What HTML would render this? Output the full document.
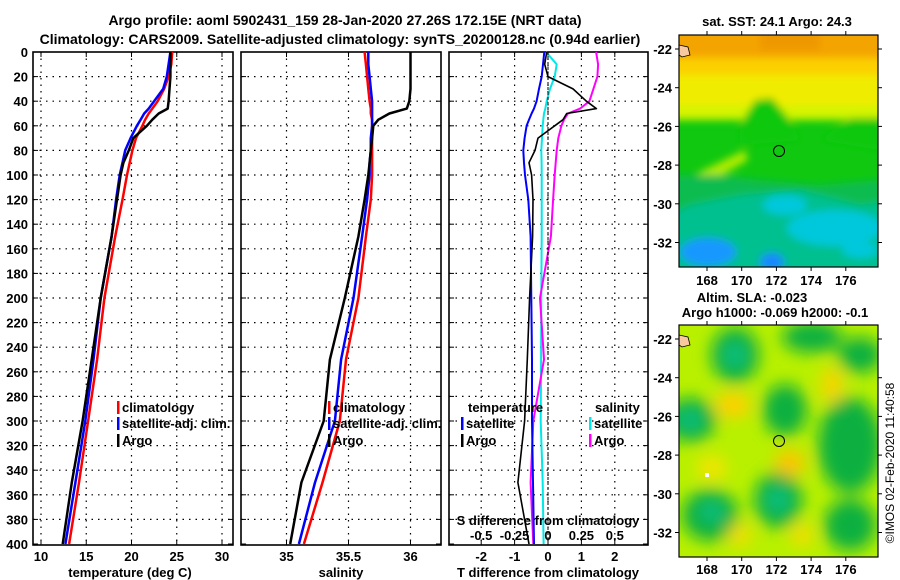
<!DOCTYPE html>
<html><head><meta charset="utf-8">
<style>
html,body{margin:0;padding:0;background:#fff;}
svg{display:block;font-family:"Liberation Sans",Arial,sans-serif;font-weight:bold;}
</style></head>
<body>
<svg id="chart" width="900" height="580" viewBox="0 0 900 580" xmlns="http://www.w3.org/2000/svg">
<defs>
<filter id="blur1" x="-20%" y="-20%" width="140%" height="140%"><feGaussianBlur stdDeviation="4"/></filter>
<filter id="blur2" x="-20%" y="-20%" width="140%" height="140%"><feGaussianBlur stdDeviation="8"/></filter>
<clipPath id="clipTop"><rect x="679" y="35" width="199" height="232"/></clipPath>
<clipPath id="clipBot"><rect x="679" y="325" width="199" height="232"/></clipPath>
</defs>
<text x="345" y="25" text-anchor="middle" font-size="14">Argo profile: aoml 5902431_159 28-Jan-2020 27.26S 172.15E (NRT data)</text>
<text x="340" y="44" text-anchor="middle" font-size="14">Climatology: CARS2009. Satellite-adjusted climatology: synTS_20200128.nc (0.94d earlier)</text>
<g id="panels"></g>

<!-- SST map -->
<g>
<text x="777" y="26" text-anchor="middle" font-size="13">sat. SST: 24.1 Argo: 24.3</text>
<g clip-path="url(#clipTop)">
<rect x="679" y="35" width="199" height="232" fill="#10c810"/>
<g filter="url(#blur1)">
<rect x="660" y="20" width="240" height="100" fill="#d4f400"/>
<rect x="660" y="20" width="240" height="85" fill="#f0ec00"/>
<rect x="660" y="20" width="240" height="55" fill="#fcd000"/>
<rect x="660" y="20" width="240" height="38" fill="#f4a400"/>
<rect x="760" y="20" width="60" height="30" fill="#ee9800"/>
<polygon points="740,125 755,100 772,98 790,120 800,140 740,145" fill="#10c810"/>
<polygon points="820,140 850,118 880,118 880,150" fill="#10c810"/>
<polygon points="690,182 700,172 745,150 748,160 705,185" fill="#b0ec00"/>
<polygon points="660,175 720,175 760,180 820,185 900,178 900,290 660,290" fill="#08bc50"/>
<polygon points="690,205 740,195 800,190 860,205 900,200 900,290 660,290 660,220" fill="#00c090"/>
<ellipse cx="835" cy="228" rx="48" ry="18" fill="#00c8dc"/>
<ellipse cx="785" cy="205" rx="22" ry="10" fill="#00c8dc"/>
<ellipse cx="708" cy="252" rx="28" ry="14" fill="#1898ff"/>
<ellipse cx="772" cy="262" rx="12" ry="9" fill="#1888ff"/>
<ellipse cx="860" cy="250" rx="18" ry="8" fill="#00c8dc"/>
</g>
<path d="M679,45 L688,47 L690,55 L682,57 L679,55 Z" fill="#f8c8a0" stroke="#000" stroke-width="0.8"/>
</g>
<rect x="679" y="35" width="199" height="232" fill="none" stroke="#000" stroke-width="1.2"/>
<circle cx="779" cy="151" r="5.5" fill="none" stroke="#000" stroke-width="1"/>
<g id="topTicks"></g>
</g>

<!-- SLA map -->
<g>
<text x="752" y="302" text-anchor="middle" font-size="13">Altim. SLA: -0.023</text>
<text x="775" y="317" text-anchor="middle" font-size="13">Argo h1000: -0.069 h2000: -0.1</text>
<g clip-path="url(#clipBot)">
<rect x="679" y="325" width="199" height="232" fill="#b8f000"/>
<g filter="url(#blur2)">
<ellipse cx="735" cy="355" rx="24" ry="28" fill="#10b040"/>
<ellipse cx="812" cy="337" rx="30" ry="16" fill="#10b040"/>
<ellipse cx="860" cy="355" rx="22" ry="18" fill="#10b040"/>
<ellipse cx="690" cy="420" rx="26" ry="22" fill="#10b040"/>
<ellipse cx="785" cy="410" rx="22" ry="26" fill="#10b040"/>
<ellipse cx="850" cy="445" rx="32" ry="48" fill="#10b040"/>
<ellipse cx="710" cy="515" rx="28" ry="26" fill="#10b040"/>
<ellipse cx="778" cy="500" rx="24" ry="28" fill="#10b040"/>
<ellipse cx="850" cy="525" rx="26" ry="26" fill="#10b040"/>
<ellipse cx="735" cy="355" rx="12" ry="12" fill="#10c080"/>
<ellipse cx="690" cy="420" rx="12" ry="10" fill="#10c080"/>
<ellipse cx="778" cy="500" rx="12" ry="12" fill="#10c080"/>
<ellipse cx="712" cy="512" rx="12" ry="10" fill="#10c080"/>
<ellipse cx="733" cy="405" rx="18" ry="13" fill="#ffd000"/>
<ellipse cx="832" cy="385" rx="11" ry="18" fill="#f8d400"/>
<ellipse cx="790" cy="463" rx="15" ry="13" fill="#ffc400"/>
<ellipse cx="712" cy="468" rx="15" ry="12" fill="#f4e400"/>
<ellipse cx="740" cy="535" rx="11" ry="11" fill="#f8dc00"/>
<ellipse cx="802" cy="535" rx="11" ry="11" fill="#f8dc00"/>
</g>
<path d="M679,335 L688,337 L690,345 L682,347 L679,345 Z" fill="#f8c8a0" stroke="#000" stroke-width="0.8"/>
<rect x="705" y="473" width="4" height="4" fill="#fff"/>
</g>
<rect x="679" y="325" width="199" height="232" fill="none" stroke="#000" stroke-width="1.2"/>
<circle cx="779" cy="441" r="5.5" fill="none" stroke="#000" stroke-width="1"/>
<g id="botTicks"></g>
</g>
<text x="0" y="0" font-size="12" font-weight="normal" text-anchor="middle" transform="translate(894,463) rotate(-90)">©IMOS 02-Feb-2020 11:40:58</text>
</svg>
<script>
// depth levels (m)
const depths   = [0, 10, 20, 30, 40, 46, 50, 55, 60, 70, 80, 90, 100, 120, 150, 200, 250, 300, 350, 400];
// temperature (deg C)
const tempClim = [24.5, 24.4, 24.1, 23.6, 22.9, 22.3, 21.9, 21.5, 21.2, 20.5, 20.1, 19.8, 19.5, 19.0, 18.2, 17.0, 16.2, 15.2, 14.2, 13.1];
const tempSat  = [24.3, 24.1, 23.9, 23.5, 22.5, 21.9, 21.4, 21.0, 20.6, 19.9, 19.3, 19.0, 18.7, 18.3, 17.8, 16.6, 15.8, 14.9, 13.8, 12.7];
const tempArgo = [24.3, 24.3, 24.3, 24.2, 24.1, 24.0, 23.0, 22.3, 21.7, 20.2, 19.7, 19.1, 18.8, 18.4, 17.8, 16.6, 15.6, 14.6, 13.4, 12.4];
// salinity
const salClim  = [35.63, 35.64, 35.65, 35.66, 35.67, 35.68, 35.68, 35.69, 35.69, 35.69, 35.69, 35.69, 35.69, 35.68, 35.64, 35.58, 35.48, 35.43, 35.29, 35.14];
const salSat   = [35.66, 35.66, 35.67, 35.68, 35.69, 35.69, 35.69, 35.69, 35.69, 35.68, 35.68, 35.67, 35.67, 35.65, 35.61, 35.54, 35.44, 35.39, 35.23, 35.10];
const salArgo  = [36.00, 36.00, 36.00, 36.00, 35.99, 35.97, 35.83, 35.74, 35.70, 35.69, 35.68, 35.67, 35.66, 35.63, 35.58, 35.47, 35.35, 35.30, 35.12, 35.03];
// differences from climatology
const dTSat    = [-0.11, -0.15, -0.19, -0.27, -0.34, -0.42, -0.49, -0.57, -0.64, -0.70, -0.74, -0.72, -0.69, -0.59, -0.52, -0.50, -0.48, -0.48, -0.45, -0.42];
const dTArgo   = [-0.04, -0.10, 0.00, 0.75, 1.15, 1.45, 0.56, 0.45, 0.20, -0.30, -0.39, -0.57, -0.49, -0.45, -0.46, -0.55, -0.62, -0.70, -0.90, -0.57];
const dSSat    = [-0.015, 0.065, 0.05, 0.015, -0.01, -0.02, -0.03, -0.035, -0.04, -0.045, -0.05, -0.048, -0.047, -0.047, -0.047, -0.05, -0.052, -0.055, -0.04, -0.033];
const dSArgo   = [0.36, 0.375, 0.37, 0.34, 0.31, 0.24, 0.15, 0.12, 0.10, 0.077, 0.065, 0.058, 0.05, 0.038, 0.022, -0.06, -0.03, -0.11, -0.13, -0.11];
// tick labels
const depthTicks = [0,20,40,60,80,100,120,140,160,180,200,220,240,260,280,300,320,340,360,380,400];
const tempTicks = [10,15,20,25,30];
const salTicks = [35,35.5,36];
const dTTicks = [-2,-1,0,1,2];
const dSTicks = [-0.5,-0.25,0,0.25,0.5];
const dSTickLabels = ['-0.5','-0.25','0','0.25','0.5'];
const lonTicks = [168,170,172,174,176];
const latTicks = [-22,-24,-26,-28,-30,-32];

const NS='http://www.w3.org/2000/svg';
const svg=document.getElementById('chart');
const panels=document.getElementById('panels');
function el(tag,attrs,parent,text){const e=document.createElementNS(NS,tag);for(const k in attrs)e.setAttribute(k,attrs[k]);if(text!==undefined)e.textContent=text;(parent||svg).appendChild(e);return e;}
const yScale=d=>52+d*(492/400);
const xT=v=>41+(v-10)*9.05;
const xS=v=>286.5+(v-35)*124;
const xdT=v=>548+v*33.4;
const xdS=v=>548+v*133.6;

function panel(name,x0,x1,ticks,xf,labels,axisTitle,titleX,showY){
  const g=el('g',{},panels);
  
  
  depthTicks.forEach(d=>{if(d>0&&d<400){const l=el('line',{x1:x0,x2:x1,y1:yScale(d),y2:yScale(d),stroke:'#000','stroke-width':1.2,'stroke-dasharray':'1.5,5'},g);}});
  ticks.forEach((t,i)=>{const x=xf(t);
    const l=el('line',{x1:x,x2:x,y1:52,y2:545,stroke:'#000','stroke-width':1.2,'stroke-dasharray':'1.5,5'},g);
    
    el('line',{x1:x,x2:x,y1:545,y2:540,stroke:'#000','stroke-width':1},g);
    el('line',{x1:x,x2:x,y1:52,y2:57,stroke:'#000','stroke-width':1},g);
    const tl=el('text',{x:x,y:561,'text-anchor':'middle','font-size':13},g,labels[i]);
    
  });
  depthTicks.forEach(d=>{el('line',{x1:x0,x2:x0+5,y1:yScale(d),y2:yScale(d),stroke:'#000','stroke-width':1},g);el('line',{x1:x1,x2:x1-5,y1:yScale(d),y2:yScale(d),stroke:'#000','stroke-width':1},g);
    if(showY){const t=el('text',{x:28,y:yScale(d)+5,'text-anchor':'end','font-size':13},g,String(d));}});
  const fr=el('rect',{x:x0,y:52,width:x1-x0,height:493,fill:'none',stroke:'#000','stroke-width':1.6},g);
  
  const at=el('text',{x:titleX,y:577,'text-anchor':'middle','font-size':13},g,axisTitle);
  
  return g;
}
function line(g,vals,xf,color,w,name){
  const pts=vals.map((v,i)=>xf(v).toFixed(1)+','+yScale(depths[i]).toFixed(1)).join(' ');
  const p=el('polyline',{points:pts,fill:'none',stroke:color,'stroke-width':w,'stroke-linejoin':'round'},g);
  
  
}
function legend(g,x,y,color,label,name){
  el('rect',{x:x,y:y-11,width:2.5,height:13,fill:color},g);
  const t=el('text',{x:x+5,y:y,'font-size':13},g,label);
  
  
}
const g1=panel('temperature-panel',33,233,tempTicks,xT,tempTicks.map(String),'temperature (deg C)',130,true);
line(g1,tempClim,xT,'#ff0000',2.5,'temperature-climatology-line');
line(g1,tempSat,xT,'#0000ff',2.5,'temperature-satellite-line');
line(g1,tempArgo,xT,'#000000',2.5,'temperature-argo-line');
legend(g1,117,412,'#ff0000','climatology','legend-climatology');
legend(g1,117,428,'#0000ff','satellite-adj. clim.','legend-satellite');
legend(g1,117,445,'#000000','Argo','legend-argo');

const g2=panel('salinity-panel',241,441,salTicks,xS,['35','35.5','36'],'salinity',341,false);
line(g2,salClim,xS,'#ff0000',2.5,'salinity-climatology-line');
line(g2,salSat,xS,'#0000ff',2.5,'salinity-satellite-line');
line(g2,salArgo,xS,'#000000',2.5,'salinity-argo-line');
legend(g2,328,412,'#ff0000','climatology','legend-climatology');
legend(g2,328,428,'#0000ff','satellite-adj. clim.','legend-satellite');
legend(g2,328,445,'#000000','Argo','legend-argo');

const g3=panel('difference-panel',449,648,dTTicks,xdT,dTTicks.map(String),'T difference from climatology',548,false);
line(g3,dSSat,xdS,'#00e8e8',2,'salinity-diff-satellite-line');
line(g3,dSArgo,xdS,'#ff00ff',2,'salinity-diff-argo-line');
line(g3,dTSat,xdT,'#0000ff',2,'temperature-diff-satellite-line');
line(g3,dTArgo,xdT,'#000000',1.6,'temperature-diff-argo-line');
const lt=el('text',{x:468,y:412,'font-size':13},g3,'temperature');
const ls=el('text',{x:595,y:412,'font-size':13},g3,'salinity');
legend(g3,461,428,'#0000ff','satellite','legend-t-satellite');
legend(g3,461,445,'#000000','Argo','legend-t-argo');
legend(g3,589,428,'#00e8e8','satellite','legend-s-satellite');
legend(g3,589,445,'#ff00ff','Argo','legend-s-argo');
const sdt=el('text',{x:548,y:525,'text-anchor':'middle','font-size':13},g3,'S difference from climatology');
dSTicks.forEach((t,i)=>{const tx=el('text',{x:xdS(t),y:540,'text-anchor':'middle','font-size':13},g3,dSTickLabels[i]);});
const zl=el('line',{x1:548,x2:548,y1:52,y2:545,stroke:'#000','stroke-width':1,'stroke-dasharray':'3,2'},g3);


// map ticks
const lonX=l=>707+(l-168)*17.35;
function mapTicks(gid,top,latY0,lblY){
  const g=document.getElementById(gid);
  lonTicks.forEach(l=>{const x=lonX(l);
    el('line',{x1:x,x2:x,y1:top,y2:top-4,stroke:'#000'},g);
    el('line',{x1:x,x2:x,y1:top+232,y2:top+236,stroke:'#000'},g);
    const t=el('text',{x:x,y:lblY,'text-anchor':'middle','font-size':13},g,String(l));});
  latTicks.forEach(la=>{const y=latY0+(-22-la)*19.35;
    el('line',{x1:675,x2:679,y1:y,y2:y,stroke:'#000'},g);
    el('line',{x1:878,x2:882,y1:y,y2:y,stroke:'#000'},g);
    const t=el('text',{x:672,y:y+5,'text-anchor':'end','font-size':13},g,String(la));});
}
mapTicks('topTicks',35,49,285);
mapTicks('botTicks',325,339,574);
</script>
</body></html>
